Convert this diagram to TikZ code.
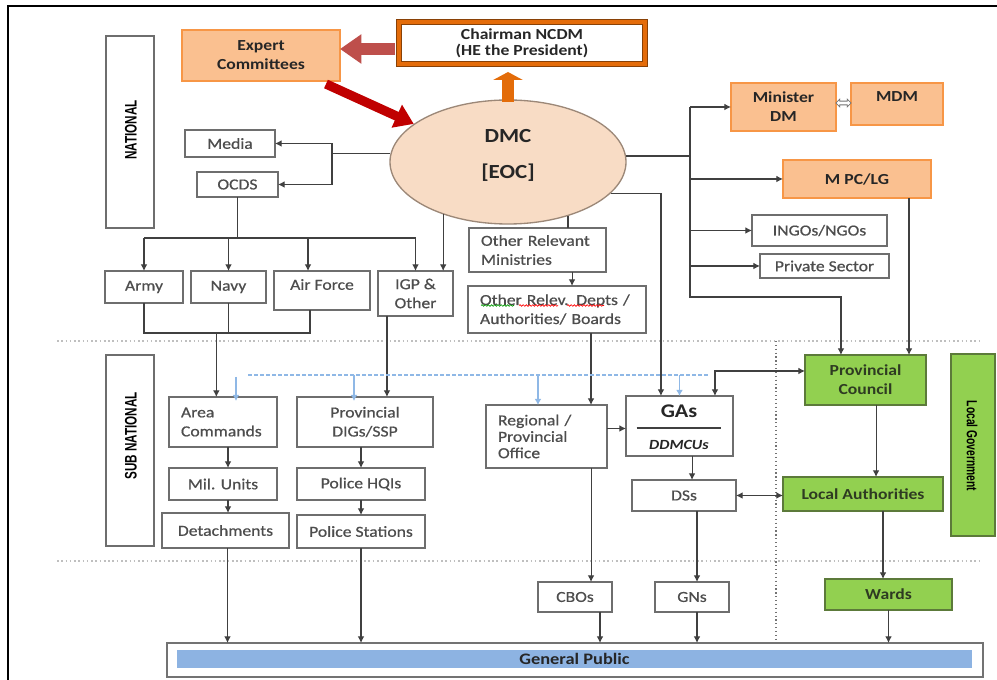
\documentclass[tikz,border=0pt]{standalone}
\usepackage{fontspec}
\setmainfont{Carlito}[FakeStretch=1.15, UprightFeatures={FakeBold=0.6}]
\newfontfamily\narrowfont{Liberation Sans}[FakeStretch=0.7]
\usetikzlibrary{arrows.meta,shapes.geometric,shapes.arrows,calc,decorations.pathmorphing}

\definecolor{orfill}{HTML}{FAC090}
\definecolor{orline}{HTML}{F79646}
\definecolor{orarrow}{HTML}{E36C09}
\definecolor{chairline}{HTML}{E46C0A}
\definecolor{grfill}{HTML}{92D050}
\definecolor{grline}{HTML}{5C7A3A}
\definecolor{grtxt}{HTML}{2E3B22}
\definecolor{ellfill}{HTML}{F8DCC5}
\definecolor{ellline}{HTML}{9C8878}
\definecolor{boxgray}{HTML}{6E6E6E}
\definecolor{txtgray}{HTML}{4D4D4D}
\definecolor{darktxt}{HTML}{262626}
\definecolor{linegray}{HTML}{404040}
\definecolor{gpblue}{HTML}{8DB3E2}
\definecolor{lightblue}{HTML}{8FB8E6}
\definecolor{blockred}{HTML}{BE4F4B}
\definecolor{strongred}{HTML}{C00000}

\tikzset{
  box/.style={draw=boxgray, fill=white, line width=0.9pt, inner sep=0pt, outer sep=0pt,
    text=txtgray, align=center, font=\fontsize{11.5}{14.25}\selectfont},
  obox/.style={box, fill=orfill, draw=orline, line width=1.6pt, text=darktxt,
    font=\fontsize{11.5}{14.25}\selectfont\bfseries},
  otext/.style={text=darktxt, font=\fontsize{11.5}{14.25}\selectfont\bfseries},
  chairbox/.style={box, draw=chairline!60!black, double=chairline, double distance=3pt,
    line width=0.5pt, text=darktxt, font=\fontsize{11.5}{12}\selectfont\bfseries},
  gbox/.style={box, fill=grfill, draw=grline, line width=1pt, text=grtxt,
    font=\fontsize{11.5}{14.25}\selectfont\bfseries},
  tierup/.style={rotate=90, text=black, font=\narrowfont\bfseries\fontsize{12.5}{14}\selectfont},
  tierdown/.style={rotate=-90, text=black, font=\narrowfont\bfseries\fontsize{11}{13}\selectfont},
  bigtxt/.style={text=darktxt, font=\fontsize{15}{18}\selectfont\bfseries},
  conn/.style={draw=linegray, line width=0.8pt},
  arr/.style={conn, -{Latex[length=5pt,width=5pt]}},
  arrtwo/.style={conn, {Latex[length=5pt,width=5pt]}-{Latex[length=5pt,width=5pt]}},
  barr/.style={draw=lightblue, line width=0.9pt, -{Latex[length=4.5pt,width=5pt]}},
  sepline/.style={draw=black!25, line width=1.2pt, dotted},
  vsep/.style={draw=black!55, line width=0.9pt, dotted},
  bluedash/.style={draw=lightblue, line width=0.9pt, dash pattern=on 3pt off 1.5pt},
  squiggle/.style={line width=0.5pt, decorate,
    decoration={snake, amplitude=0.6pt, segment length=2.4pt}},
  hollowlink/.style={double arrow, draw=black!55, fill=white, line width=0.6pt,
    inner sep=1.1pt, minimum height=11.5pt, double arrow head extend=1.6pt},
}

\begin{document}
\begin{tikzpicture}[x=0.75pt,y=-0.75pt]
\useasboundingbox (0,0) rectangle (997,680);
\fill[white] (0,0) rectangle (997,680);
% outer frame
\draw[line width=1.5pt] (8,680) -- (8,6) -- (997,6);

% level separators
\draw[sepline] (57,341) -- (982,341);
\draw[sepline] (57,561) -- (982,561);
\draw[vsep] (776,341) -- (776,640);

% tier labels
\node[box, minimum width=36pt, minimum height=144pt] (natbox) at (130,132) {};
\node[tierup] (natlbl) at (131,130) {NATIONAL};
\node[box, minimum width=36pt, minimum height=143.25pt] (subbox) at (130,450.5) {};
\node[tierup] (sublbl) at (131,436) {SUB NATIONAL};

% top of the hierarchy
\node[obox, minimum width=118.5pt, minimum height=38.25pt] (expert) at (261,55.5) {Expert\\Committees};
\node[chairbox, minimum width=184.5pt, minimum height=31.5pt] (chair) at (522,43) {Chairman NCDM\\(HE the President)};
\node[ellipse, draw=ellline, fill=ellfill, line width=1pt, inner sep=0pt,
      minimum width=177pt, minimum height=93pt] (dmc) at (508,162) {};
\node[bigtxt] (dmclbl) at (508,136) {DMC};
\node[bigtxt] (eoclbl) at (508,173) {[EOC]};

% national boxes
\node[box, minimum width=67.5pt, minimum height=20.25pt] (media) at (230,143.5) {Media};
\node[box, minimum width=60.75pt, minimum height=18.75pt] (ocds) at (237.5,184.5) {OCDS};
\node[box, minimum width=58.5pt, minimum height=24pt] (army) at (144,287) {Army};
\node[box, minimum width=56.25pt, minimum height=24pt] (navy) at (228.5,287) {Navy};
\node[box, minimum width=72pt, minimum height=29.25pt, text depth=9pt] (airforce) at (322,290.5) {Air Force};
\node[box, minimum width=56.25pt, minimum height=33.75pt] (igp) at (415.5,293.5) {IGP \&\\Other};
\node[box, minimum width=102.75pt, minimum height=33pt, text width=84.75pt, align=left]
  (orm) at (537.5,250) {Other Relevant\\Ministries};
\node[box, minimum width=133.5pt, minimum height=35.25pt, text width=115.5pt, align=left]
  (ord) at (557,309.5) {Other Relev. Depts /\\Authorities/ Boards};
% proofing marks under the first line
\draw[squiggle, green!60!black] ($(ord.center)+(-76,-4)$) -- ($(ord.center)+(-43,-4)$);
\draw[squiggle, red] ($(ord.center)+(-38,-4)$) -- ($(ord.center)+(1,-4)$);
\draw[squiggle, red] ($(ord.center)+(10,-4)$) -- ($(ord.center)+(47,-4)$);
\node[obox, minimum width=78.75pt, minimum height=36pt] (minister) at (783.5,107) {Minister\\DM};
\node[obox, minimum width=69pt, minimum height=31.5pt] (mdm) at (897,104) {};
\node[otext] (mdmlbl) at (897,97) {MDM};
\node[obox, minimum width=111pt, minimum height=28.5pt] (mpclg) at (857,179) {M PC/LG};
\node[box, minimum width=101.25pt, minimum height=23.25pt] (ngo) at (819.5,230.5) {INGOs/NGOs};
\node[box, minimum width=96.75pt, minimum height=18pt] (private) at (824.5,266) {Private Sector};

% sub-national boxes
\node[box, minimum width=81pt, minimum height=37.5pt, text width=63pt, align=left]
  (area) at (223,422) {Area\\Commands};
\node[box, minimum width=102pt, minimum height=37.5pt] (provdig) at (365,422) {Provincial\\DIGs/SSP};
\node[box, minimum width=81pt, minimum height=24pt] (mil) at (223,484) {Mil. Units};
\node[box, minimum width=95.25pt, minimum height=26.25pt] (det) at (225.5,530.5) {Detachments};
\node[box, minimum width=96pt, minimum height=24pt] (hqi) at (361,484) {Police HQIs};
\node[box, minimum width=96pt, minimum height=24.75pt] (stations) at (361,531.5) {Police Stations};
\node[box, minimum width=90.75pt, minimum height=47.25pt, text width=72.75pt, align=left,
      font=\fontsize{11.5}{12.3}\selectfont] (regional) at (546.5,436.5) {Regional /\\Provincial\\Office};
\node[box, minimum width=80.25pt, minimum height=45pt] (gas) at (679.5,426) {};
\node[text=darktxt, font=\fontsize{14.5}{16}\selectfont\bfseries] (gaslbl) at (679,411) {GAs};
\node[text=darktxt, font=\fontsize{10.5}{12}\selectfont\bfseries\itshape] (ddmcu) at (679,445) {DDMCUs};
\draw[conn, line width=1pt] ($(gas.center)+(-43,2)$) -- ($(gas.center)+(41,2)$);
\node[box, minimum width=78pt, minimum height=23.25pt] (dss) at (684,495.5) {DSs};
\node[box, minimum width=55.5pt, minimum height=22.5pt] (cbos) at (575,597) {CBOs};
\node[box, minimum width=55.5pt, minimum height=22.5pt] (gns) at (692,597) {GNs};

% local government
\node[gbox, minimum width=90.75pt, minimum height=37.5pt] (pc) at (865.5,380) {Provincial\\Council};
\node[gbox, minimum width=120pt, minimum height=25.5pt] (la) at (863,494) {Local Authorities};
\node[gbox, minimum width=95.25pt, minimum height=23.25pt] (wards) at (888.5,594.5) {Wards};
\node[gbox, minimum width=33pt, minimum height=136.5pt] (lgbox) at (973,445) {};
\node[tierdown] (lglbl) at (972,446) {Local Government};

% general public
\node[box, minimum width=612pt, minimum height=25.5pt, draw=black!55, line width=1.1pt] (gp) at (575,660) {};
\node[fill=gpblue, inner sep=0pt, minimum width=596.25pt, minimum height=13.5pt, text=darktxt,
      font=\fontsize{12}{14}\selectfont\bfseries] (gpbar) at (574.5,659) {General Public};

% block arrows around the DMC
\draw[draw=blockred, line width=9pt, -{Triangle[length=16pt,width=21pt]}]
  ([xshift=-3pt,yshift=-4.5pt]chair.west) -- ([yshift=-4.5pt]chair.west -| expert.east);
\draw[draw=orarrow, line width=9pt, -{Triangle[length=6pt,width=22pt]}]
  ([yshift=-2pt]dmc.north) -- ([yshift=-6pt]dmc.north |- chair.south);
\draw[draw=strongred, line width=7pt, -{Triangle[length=14pt,width=18pt]}]
  ([xshift=-10.5pt,yshift=-2.25pt]expert.south east) -- (dmc.158);

% DMC to media and OCDS
\coordinate (mj) at (332,0);
\draw[arr] (dmc.176.5) -- (dmc.176.5 -| mj) |- (media.east);
\draw[arr] (dmc.176.5 -| mj) |- (ocds.east);

% OCDS to the forces
\coordinate (bus) at (0,238);
\draw[conn, line width=1.3pt] (ocds.south) -- (ocds.south |- bus);
\draw[conn] (army.north |- bus) -- (igp.north |- bus);
\draw[arr] (army.north |- bus) -- (army.north);
\draw[arr] (navy.north |- bus) -- (navy.north);
\draw[arr] ([xshift=-10.5pt]airforce.north |- bus) -- ([xshift=-10.5pt]airforce.north);
\draw[arr] (igp.north |- bus) -- (igp.north);
\draw[arr] (dmc.219.5) -- (dmc.219.5 |- igp.north);

% forces to area commands / police
\coordinate (join) at (0,333);
\draw[conn] (army.south) -- (army.south |- join) -- ([xshift=-9pt]airforce.south |- join) -- ([xshift=-9pt]airforce.south);
\draw[conn] (navy.south) -- (navy.south |- join);
\draw[arr] ([xshift=-5pt]area.north |- join) -- ([xshift=-5pt]area.north);
\draw[arr] ([xshift=-21.4pt]igp.south) -- ([xshift=-21.4pt]igp.south |- provdig.north);

% ministries chain
\draw[conn] (dmc.318.5) -- (dmc.318.5 |- orm.north);
\draw[arr] ([xshift=25.9pt]orm.south) -- ([xshift=25.9pt]orm.south |- ord.north);
\draw[arr] ([xshift=25.5pt]ord.south) -- ([xshift=25.5pt]ord.south |- regional.north);
\draw[arr] (dmc.343) -| ([xshift=-13.9pt]gas.north);

% right-hand spine
\coordinate (rsp) at (690,0);
\coordinate (rbot) at (690,297);
\draw[conn, line width=1.3pt] (dmc.3.5) -- (dmc.3.5 -| rsp);
\draw[arr] (minister.west -| rsp) -- (rbot) -| ([xshift=-18.4pt]pc.north);
\draw[arr] (minister.west -| rsp) -- (minister.west);
\draw[arr] (mpclg.west -| rsp) -- (mpclg.west);
\draw[arr] (ngo.west -| rsp) -- (ngo.west);
\draw[arr] (private.west -| rsp) -- (private.west);
\node[hollowlink] (mlink) at ($([yshift=3pt]minister.east)!0.5!([yshift=3pt]minister.east -| mdm.west)$) {};
\draw[arr] ([xshift=39pt]mpclg.south) -- ([xshift=39pt]mpclg.south |- pc.north);

% advisory links (blue)
\coordinate (bl) at (248,375);
\coordinate (br) at (708,375);
\draw[bluedash] (bl) -- (br);
\draw[barr] ([xshift=9.75pt,yshift=-1.5pt]area.north |- bl) -- ([xshift=9.75pt,yshift=-3pt]area.north);
\draw[barr] ([xshift=-8.25pt]provdig.north |- bl) -- ([xshift=-8.25pt,yshift=-3pt]provdig.north);
\draw[barr] ([xshift=-6.4pt]regional.north |- bl) -- ([xshift=-6.4pt]regional.north);
\draw[barr] (gas.north |- bl) -- (gas.north);

% sub-national chains
\draw[arr] ([xshift=3.75pt]area.south) -- ([xshift=3.75pt]area.south |- mil.north);
\draw[arr] ([xshift=3.75pt]mil.south) -- ([xshift=3.75pt]mil.south |- det.north);
\draw[arr] (hqi.north |- provdig.south) -- (hqi.north);
\draw[arr] (hqi.south) -- (hqi.south |- stations.north);
\draw[arr] ([yshift=6pt]regional.east) -- ([yshift=6pt]regional.east -| gas.west);
\draw[arr] ([xshift=9.4pt]gas.south) -- ([xshift=9.4pt]gas.south |- dss.north);
\draw[arrtwo] ([xshift=26.6pt]gas.north) |- ([yshift=6.75pt]pc.west);
\draw[arrtwo] (dss.east) -- (dss.east -| la.west);
\draw[arr] ([xshift=7.9pt]pc.south) -- ([xshift=7.9pt]pc.south |- la.north);
\draw[arr] ([xshift=15pt]la.south) -- ([xshift=15pt]la.south |- wards.north);

% down to the public
\draw[arr] ([xshift=33.4pt]regional.south) -- ([xshift=33.4pt]regional.south |- cbos.north);
\draw[arr] ([xshift=9.75pt]dss.south) -- ([xshift=9.75pt]dss.south |- gns.north);
\draw[arr] ([xshift=1.5pt]det.south) -- ([xshift=1.5pt]det.south |- gp.north);
\draw[arr] (stations.south) -- (stations.south |- gp.north);
\draw[arr] ([xshift=18.75pt]cbos.south) -- ([xshift=18.75pt]cbos.south |- gp.north);
\draw[arr] ([xshift=3.75pt]gns.south) -- ([xshift=3.75pt]gns.south |- gp.north);
\draw[arr] (wards.south) -- (wards.south |- gp.north);
\end{tikzpicture}
\end{document}
